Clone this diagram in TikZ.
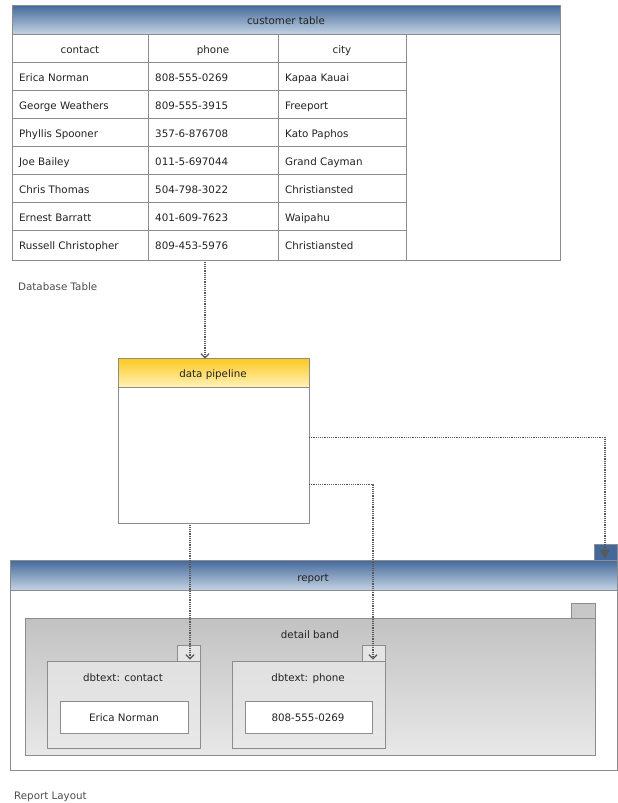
\documentclass[tikz,border=0pt]{standalone}
\usepackage{fontspec}
\setmainfont{DejaVu Sans}
\usetikzlibrary{arrows.meta}

\definecolor{hdrdark}{HTML}{44689A}
\definecolor{hdrlight}{HTML}{C3D3E3}
\definecolor{pipedark}{HTML}{FFC81E}
\definecolor{pipelight}{HTML}{FFF2B8}
\definecolor{edge}{HTML}{8C8C8C}
\definecolor{ink}{HTML}{222222}

\tikzset{
  every node/.style={font=\fontsize{10.3}{12}\selectfont, text=ink, inner sep=0pt,
    text height=7.6pt, text depth=1.8pt, yshift=-1.5pt},
  frame/.style={draw=edge, line width=0.8pt},
  bluehdr/.style={frame, top color=hdrdark, bottom color=hdrlight},
  yellowhdr/.style={frame, top color=pipedark, bottom color=pipelight},
  band/.style={frame, top color=black!24, bottom color=black!9},
  field/.style={frame, top color=black!12, bottom color=black!9},
  cell/.style={draw=edge, line width=0.6pt},
  conn/.style={densely dotted, draw=black!65, line width=1.2pt},
  vtip/.style={-{Straight Barb[length=4pt,width=8pt]}},
}

\begin{document}
\begin{tikzpicture}[x=1pt, y=-1pt]
\useasboundingbox (0,0) rectangle (618,803);

% customer table
\draw[frame, fill=white] (12,5) rectangle (560,260);
\draw[bluehdr] (12,5) rectangle (560,34);
\node (tblhdr) at (286,20) {customer table};
\foreach \y in {62,90,...,250} \draw[cell] (12,\y) -- (406,\y);
\foreach \x in {148,278,406} \draw[cell] (\x,34) -- (\x,260);
\node (hcontact) at (80,49) {contact};
\node (hphone) at (213,49) {phone};
\node (hcity) at (342,49) {city};
\foreach \who/\tel/\town [count=\i] in {Erica Norman/808-555-0269/Kapaa Kauai,
    George Weathers/809-555-3915/Freeport,
    Phyllis Spooner/357-6-876708/Kato Paphos,
    Joe Bailey/011-5-697044/Grand Cayman,
    Chris Thomas/504-798-3022/Christiansted,
    Ernest Barratt/401-609-7623/Waipahu,
    Russell Christopher/809-453-5976/Christiansted}{
  \node[anchor=west] (contact\i) at (19,49+28*\i) {\who};
  \node[anchor=west] (phone\i) at (155,49+28*\i) {\tel};
  \node[anchor=west] (city\i) at (285,49+28*\i) {\town};
}
\node[anchor=west, text=black!70] (dblabel) at (18,286) {Database Table};

% data pipeline
\draw[frame, fill=white] (118,358) rectangle (309,523);
\draw[yellowhdr] (118,358) rectangle (309,387);
\node (pipe) at (213,373) {data pipeline};

% report layout
\draw[frame, fill=white] (10,560) rectangle (617,770);
\draw[bluehdr] (10,560) rectangle (617,590);
\node (report) at (313,577) {report};
\draw[frame, fill=hdrdark] (594,544) rectangle (617,560);

\draw[frame, fill=black!22] (571,603) rectangle (595,618);
\draw[band] (25,618) rectangle (595,755);
\node (band) at (310,634) {detail band};

\draw[frame, fill=black!10] (177,645) rectangle (200,661);
\draw[field] (47,661) rectangle (200,748);
\node (dbcontact) at (123,677) {dbtext: contact};
\draw[frame, fill=white] (60,701) rectangle (188,733);
\node (valcontact) at (124,717) {Erica Norman};

\draw[frame, fill=black!10] (362,645) rectangle (385,661);
\draw[field] (232,661) rectangle (385,748);
\node (dbphone) at (308,677) {dbtext: phone};
\draw[frame, fill=white] (245,701) rectangle (372,733);
\node (valphone) at (308,717) {808-555-0269};

\node[anchor=west, text=black!70] (layoutlabel) at (14,795) {Report Layout};

% connectors
\coordinate (tblout) at (205,260);
\coordinate (pipein) at (205,357);
\coordinate (pipeup) at (309,436);
\coordinate (pipemid) at (309,483);
\coordinate (pipelow) at (190,523);
\coordinate (reptab) at (605,557);
\coordinate (contacttab) at (190,658);
\coordinate (phonetab) at (373,658);

\draw[conn, vtip] (tblout) -- (pipein);
\draw[conn, -{Triangle[length=9pt,width=10pt]}] (pipeup) -| (reptab);
\draw[conn, vtip] (pipemid) -| (phonetab);
\draw[conn, vtip] (pipelow) -- (contacttab);

\end{tikzpicture}
\end{document}
